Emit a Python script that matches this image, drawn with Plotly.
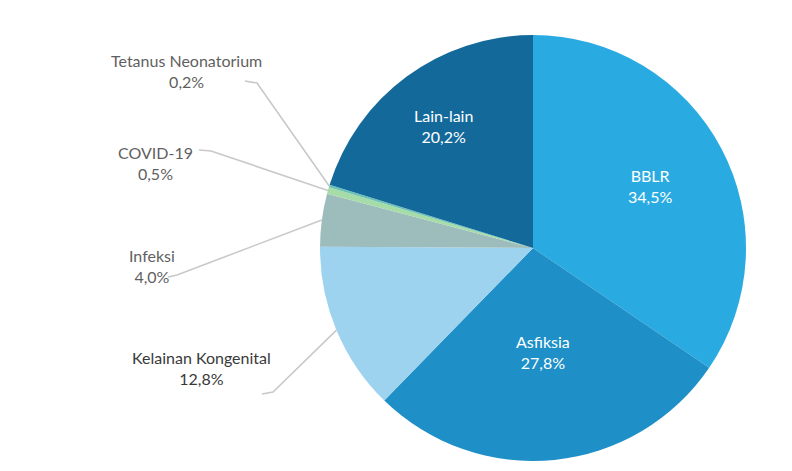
import math
import plotly.graph_objects as go

# ---- data ----
categories = ["BBLR", "Asfiksia", "Kelainan Kongenital", "Infeksi",
              "COVID-19", "Tetanus Neonatorium", "Lain-lain"]
values = [34.5, 27.8, 12.8, 4.0, 0.5, 0.2, 20.2]
value_labels = ["34,5%", "27,8%", "12,8%", "4,0%", "0,5%", "0,2%", "20,2%"]

# ---- style / layout ----
colors = ["#29ABE2", "#1E8FC7", "#9DD3EE", "#9DBDBD",
          "#A6DCA8", "#6CC3B5", "#14699B"]
W, H = 792, 471
CX, CY, R = 533, 248, 213  # pixel centre / radius of pie

inside = {  # category -> radial fraction for inner label
    "BBLR": 0.62, "Asfiksia": 0.49, "Lain-lain": 0.71,
}
outside = {  # category -> (label centre px, line start px, elbow px, text colour)
    "Tetanus Neonatorium": ((186, 71), (245, 81), (257, 83), "#5f5f5f"),
    "COVID-19": ((155, 163), (199, 150), (211, 151), "#5f5f5f"),
    "Infeksi": ((152, 266), (168, 277), (177, 275), "#5f5f5f"),
    "Kelainan Kongenital": ((201, 368), (262, 394), (273, 392), "#3a3a3a"),
}
FONT = "Lato"
FS = 16


def px(x, y):
    return x / W, 1 - y / H


fig = go.Figure(go.Pie(
    labels=categories, values=values, sort=False, direction="clockwise",
    rotation=0, textinfo="none", hoverinfo="label+percent",
    marker=dict(colors=colors, line=dict(width=0)),
    domain=dict(x=[(CX - R) / W, (CX + R) / W], y=[1 - (CY + R) / H, 1 - (CY - R) / H]),
    showlegend=False,
))

total = sum(values)
cum = 0.0
annotations, shapes = [], []
for cat, v, lab in zip(categories, values, value_labels):
    mid = (cum + v / 2) / total * 2 * math.pi
    cum += v
    if cat in inside:
        f = inside[cat]
        x = CX + f * R * math.sin(mid)
        y = CY - f * R * math.cos(mid)
        ax, ay = px(x, y)
        annotations.append(dict(x=ax, y=ay, xref="paper", yref="paper",
                                xanchor="center", yanchor="middle",
                                text=f"{cat}<br>{lab}", showarrow=False,
                                font=dict(family=FONT, size=FS, color="white")))
    else:
        (tx, ty), start, elbow, tc = outside[cat]
        ax, ay = px(tx, ty)
        annotations.append(dict(x=ax, y=ay, xref="paper", yref="paper",
                                xanchor="center", yanchor="middle",
                                text=f"{cat}<br>{lab}", showarrow=False,
                                font=dict(family=FONT, size=FS, color=tc)))
        rx = CX + R * math.sin(mid)
        ry = CY - R * math.cos(mid)
        pts = [start, elbow, (rx, ry)]
        path = "M " + " L ".join(f"{px(*p)[0]},{px(*p)[1]}" for p in pts)
        shapes.append(dict(type="path", xref="paper", yref="paper", path=path,
                           line=dict(color="#c9c9c9", width=1.6)))

fig.update_layout(
    width=W, height=H, margin=dict(l=0, r=0, t=0, b=0),
    paper_bgcolor="white", plot_bgcolor="white",
    annotations=annotations, shapes=shapes,
)
fig.write_html("out.html")
